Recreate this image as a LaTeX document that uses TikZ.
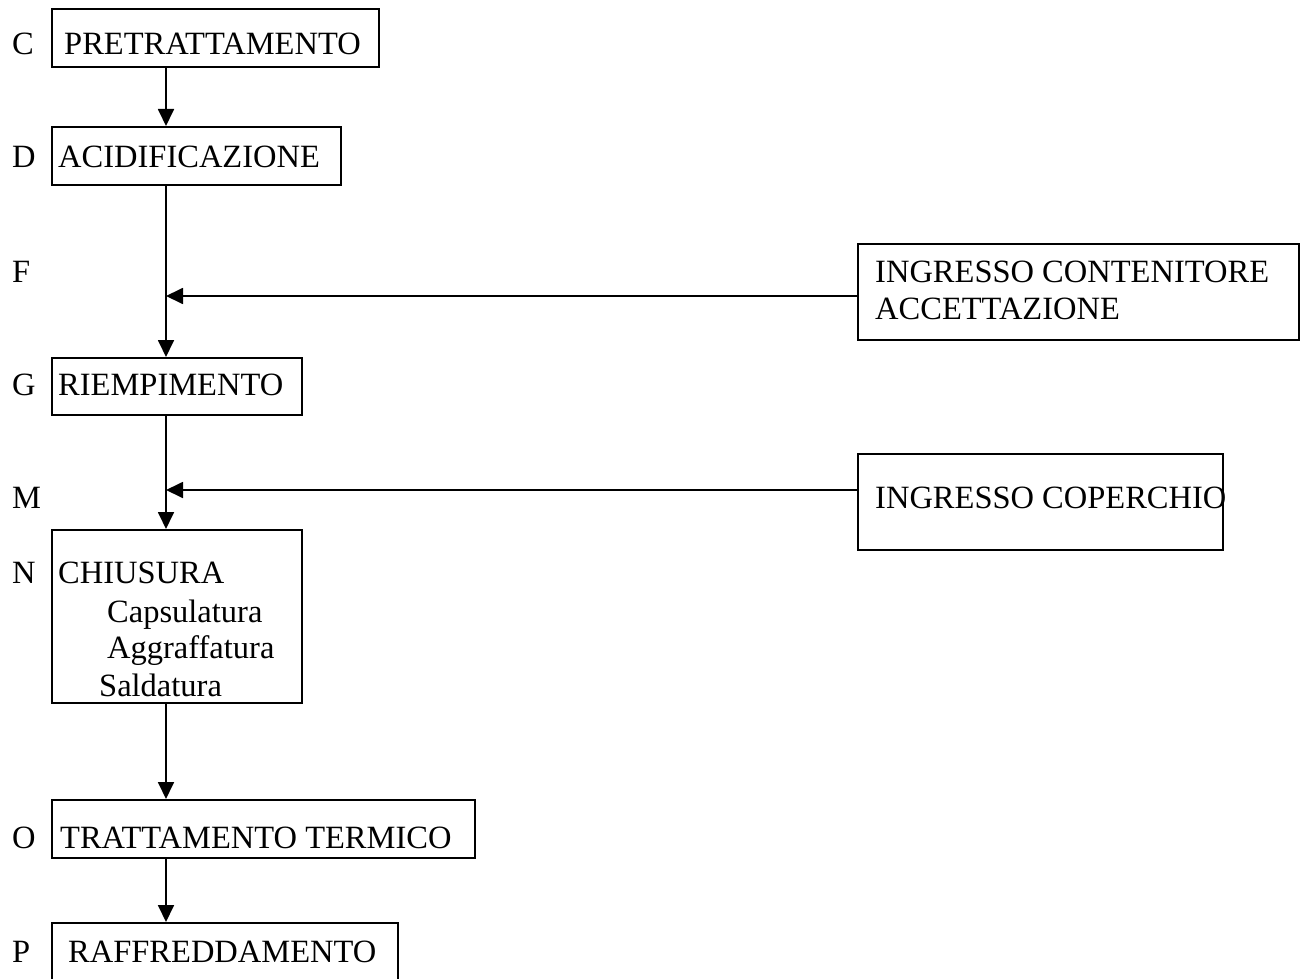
\documentclass[tikz,border=0pt]{standalone}
\usepackage{fontspec}
\setmainfont{Liberation Serif}
\usetikzlibrary{arrows.meta}
\tikzset{
  stage/.style={draw, line width=1.8pt, rectangle, inner sep=0pt, anchor=north west},
  txt/.style={anchor=base west, inner sep=0pt, font=\fontsize{32.5}{38}\selectfont},
  flow/.style={line width=1.8pt, -{Triangle[length=17pt,width=16pt]}},
}
\begin{document}
\begin{tikzpicture}[x=1pt,y=-1pt]
\useasboundingbox (0,0) rectangle (1303,979);

% main process stages
\node[stage, minimum width=327pt, minimum height=58pt] (pre) at (51,8) {};
\node[stage, minimum width=289pt, minimum height=58pt] (acid) at (51,126) {};
\node[stage, minimum width=250pt, minimum height=57pt] (riemp) at (51,357) {};
\node[stage, minimum width=250pt, minimum height=173pt] (chius) at (51,529) {};
\node[stage, minimum width=423pt, minimum height=58pt] (term) at (51,799) {};
\node[stage, minimum width=346pt, minimum height=62pt] (raffr) at (51,922) {};

% incoming materials
\node[stage, minimum width=441pt, minimum height=96pt] (cont) at (857,243) {};
\node[stage, minimum width=365pt, minimum height=96pt] (coper) at (857,453) {};

% stage texts
\node[txt] (tpre) at (64,55) {PRETRATTAMENTO};
\node[txt] (tacid) at (58,167) {ACIDIFICAZIONE};
\node[txt] (triemp) at (58,395) {RIEMPIMENTO};
\node[txt] (tchius) at (58,583) {CHIUSURA};
\node[txt] (tcaps) at (107,622) {Capsulatura};
\node[txt] (taggr) at (107,658) {Aggraffatura};
\node[txt] (tsald) at (99,696) {Saldatura};
\node[txt] (tterm) at (60,848) {TRATTAMENTO TERMICO};
\node[txt] (traffr) at (68,962) {RAFFREDDAMENTO};
\node[txt] (tcont1) at (875,282) {INGRESSO CONTENITORE};
\node[txt] (tcont2) at (875,319) {ACCETTAZIONE};
\node[txt] (tcoper) at (875,508) {INGRESSO COPERCHIO};

% step letters
\node[txt] (lC) at (12,55) {C};
\node[txt] (lD) at (12,167) {D};
\node[txt] (lF) at (12,282) {F};
\node[txt] (lG) at (12,395) {G};
\node[txt] (lM) at (12,508) {M};
\node[txt] (lN) at (12,583) {N};
\node[txt] (lO) at (12,848) {O};
\node[txt] (lP) at (12,962) {P};

% flow spine and junctions
\coordinate (spine) at (166,0);
\coordinate (j1) at (166,296);
\coordinate (j2) at (166,490);

\draw[flow] (pre.south -| spine) -- (acid.north -| spine);
\draw[flow] (acid.south -| spine) -- (riemp.north -| spine);
\draw[flow] (riemp.south -| spine) -- (chius.north -| spine);
\draw[flow] (chius.south -| spine) -- (term.north -| spine);
\draw[flow] (term.south -| spine) -- (raffr.north -| spine);
\draw[flow] (cont.west |- j1) -- (j1);
\draw[flow] (coper.west |- j2) -- (j2);
\end{tikzpicture}
\end{document}
